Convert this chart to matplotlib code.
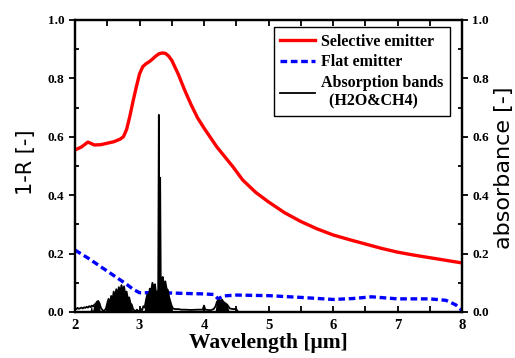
import matplotlib
matplotlib.use("Agg")
import matplotlib.pyplot as plt
import numpy as np
from matplotlib.ticker import MultipleLocator

# Selective emitter (1-R)
sel_x = [2.0, 2.1, 2.2, 2.3, 2.4, 2.5, 2.6, 2.7, 2.75, 2.8, 2.85, 2.9, 2.95, 3.0,
         3.05, 3.1, 3.15, 3.2, 3.25, 3.3, 3.35, 3.4, 3.45, 3.5, 3.6, 3.7, 3.8, 3.9,
         4.0, 4.2, 4.45, 4.6, 4.8, 5.0, 5.25, 5.5, 5.75, 6.0, 6.25, 6.5, 6.75, 7.0,
         7.25, 7.5, 7.75, 8.0]
sel_y = [0.555, 0.565, 0.582, 0.572, 0.573, 0.578, 0.583, 0.592, 0.600, 0.625, 0.670,
         0.722, 0.770, 0.815, 0.840, 0.850, 0.857, 0.866, 0.876, 0.884, 0.887, 0.886,
         0.877, 0.862, 0.815, 0.760, 0.710, 0.665, 0.630, 0.565, 0.497, 0.452, 0.410,
         0.377, 0.340, 0.310, 0.285, 0.264, 0.248, 0.233, 0.218, 0.205, 0.195, 0.186,
         0.177, 0.168]

# Flat emitter
flat_x = [2.0, 2.2, 2.4, 2.6, 2.8, 2.9, 3.0, 3.2, 3.5, 3.8, 4.0, 4.15, 4.22, 4.3,
          4.5, 5.0, 5.5, 6.0, 6.3, 6.6, 7.0, 7.5, 7.75, 7.9, 8.0]
flat_y = [0.212, 0.185, 0.155, 0.125, 0.095, 0.078, 0.066, 0.066, 0.065, 0.063, 0.062,
          0.060, 0.045, 0.055, 0.058, 0.056, 0.050, 0.043, 0.046, 0.052, 0.045, 0.045,
          0.040, 0.025, 0.005]

# Absorption bands (H2O & CH4)
abs_x = [2.00, 2.02, 2.04, 2.06, 2.08, 2.10, 2.12, 2.14, 2.16, 2.18, 2.20, 2.22, 2.24,
         2.26, 2.28, 2.30, 2.32, 2.34, 2.36, 2.38, 2.40, 2.42, 2.44, 2.46, 2.48, 2.50,
         2.52, 2.54, 2.56, 2.58, 2.60, 2.62, 2.64, 2.66, 2.68, 2.70, 2.72, 2.74, 2.76,
         2.78, 2.80, 2.82, 2.84, 2.86, 2.88, 2.90, 2.92, 2.94, 2.96, 2.98, 3.00, 3.02,
         3.04, 3.06, 3.08, 3.10, 3.12, 3.14, 3.16, 3.18, 3.20, 3.22, 3.24, 3.26, 3.28,
         3.29, 3.30, 3.31, 3.32, 3.33, 3.34, 3.36, 3.38, 3.40, 3.42, 3.44, 3.46, 3.48,
         3.50, 3.52, 3.55, 3.60, 3.65, 3.70, 3.80, 3.90, 3.98, 4.00, 4.02, 4.10, 4.15,
         4.18, 4.20, 4.22, 4.25, 4.28, 4.30, 4.33, 4.36, 4.40, 4.45, 4.50, 4.53, 4.60,
         8.00]
abs_y = [0.012, 0.010, 0.014, 0.011, 0.013, 0.015, 0.012, 0.016, 0.014, 0.018, 0.015,
         0.020, 0.017, 0.022, 0.019, 0.025, 0.028, 0.035, 0.038, 0.030, 0.015, 0.008,
         0.004, 0.006, 0.012, 0.030, 0.045, 0.025, 0.055, 0.040, 0.070, 0.050, 0.078,
         0.060, 0.085, 0.065, 0.092, 0.070, 0.088, 0.060, 0.070, 0.045, 0.050, 0.030,
         0.025, 0.010, 0.005, 0.003, 0.008, 0.004, 0.002, 0.010, 0.006, 0.020, 0.015,
         0.040, 0.060, 0.050, 0.080, 0.070, 0.100, 0.085, 0.095, 0.060, 0.070, 0.075,
         0.675, 0.080, 0.460, 0.090, 0.110, 0.120, 0.090, 0.105, 0.080, 0.075, 0.050,
         0.035, 0.020, 0.012, 0.010, 0.010, 0.008, 0.008, 0.007, 0.008, 0.008, 0.022,
         0.008, 0.006, 0.010, 0.020, 0.035, 0.040, 0.038, 0.042, 0.035, 0.030, 0.025,
         0.012, 0.010, 0.010, 0.000, 0.000, 0.000]

serif = "Liberation Serif"
W, H = 515, 358

fig = plt.figure(figsize=(5.15, 3.58), dpi=100)
ax = fig.add_axes([75/W, 1-312/H, (462-75)/W, (312-20)/H])
ax2 = ax.twinx()

ax.plot(sel_x, sel_y, color="#ff0000", lw=2.4, label="Selective emitter", zorder=3)
ax.plot(flat_x, flat_y, color="#0000ff", lw=2.4, linestyle=(0, (2.0, 1.1)),
        label="Flat emitter", zorder=3)

ax_abs_x = np.array(abs_x)
ax_abs_y = np.array(abs_y)
ax2.fill_between(ax_abs_x, 0, ax_abs_y, where=ax_abs_y > 0.02, color="black",
                 lw=0, interpolate=True)
ax2.plot(abs_x, abs_y, color="black", lw=1.3, label="Absorption bands\n  (H2O&CH4)")

for a in (ax, ax2):
    a.set_xlim(2, 8)
    a.set_ylim(0, 1.0)
    a.yaxis.set_major_locator(MultipleLocator(0.2))
    a.yaxis.set_minor_locator(MultipleLocator(0.1))
    a.xaxis.set_major_locator(MultipleLocator(1))
    a.xaxis.set_minor_locator(MultipleLocator(0.5))
    for s in a.spines.values():
        s.set_linewidth(1.6)

ax.tick_params(axis="x", which="both", direction="in", top=True, length=4, width=1.3,
               labelsize=10.5, pad=5)
ax.tick_params(axis="y", which="major", direction="out", length=4, width=1.3, labelsize=9.5)
ax.tick_params(axis="y", which="minor", direction="in", length=3, width=1.3)
ax2.tick_params(axis="y", which="major", direction="out", length=4, width=1.3, labelsize=9.5)
ax2.tick_params(axis="y", which="minor", direction="in", length=3, width=1.3)

for lab in ax.get_xticklabels() + ax.get_yticklabels() + ax2.get_yticklabels():
    lab.set_fontfamily(serif)
    lab.set_fontweight("bold")

ax.set_xlabel("Wavelength [μm]", fontfamily=serif, fontweight="bold", fontsize=15.5,
              labelpad=1)
fig.text(26/W, 1-162/H, "1-R [-]", rotation=90, ha="center", va="center",
         fontsize=15, fontfamily="DejaVu Sans")
fig.text(504/W, 1-168/H, "absorbance [-]", rotation=90, ha="center", va="center",
         fontsize=16, fontfamily="DejaVu Sans")

h1, l1 = ax.get_legend_handles_labels()
h2, l2 = ax2.get_legend_handles_labels()
leg = ax.legend(h1 + h2, l1 + l2, loc="upper right", bbox_to_anchor=(0.968, 0.975),
                prop={"family": serif, "weight": "bold", "size": 11.5},
                frameon=True, fancybox=False, edgecolor="black", framealpha=1,
                handlelength=2.2, handletextpad=0.35, borderpad=0.4, labelspacing=0.3,
                borderaxespad=0)
leg.get_frame().set_linewidth(1.0)

fig.savefig("out.png", dpi=100)
